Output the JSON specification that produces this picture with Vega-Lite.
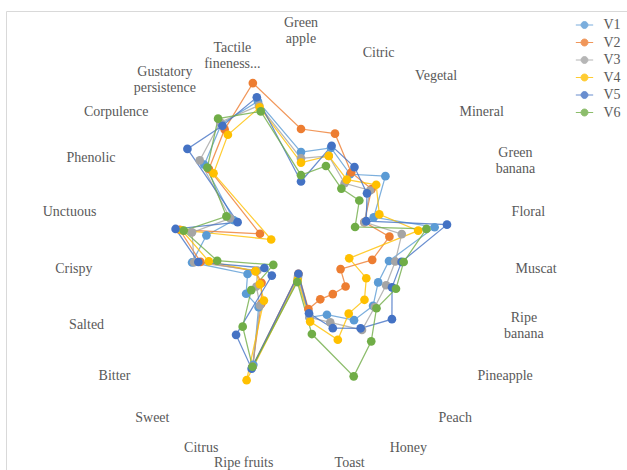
{
  "$schema": "https://vega.github.io/schema/vega-lite/v6.json",
  "width": 625,
  "height": 465,
  "autosize": {"type": "none"},
  "padding": {"left": 6, "top": 11, "right": 0, "bottom": 0},
  "background": "white",
  "config": {
    "view": {"stroke": "#d9d9d9", "strokeWidth": 1},
    "font": "Liberation Serif",
    "text": {"font": "Liberation Serif", "fontSize": 14, "color": "#595959", "lineBreak": "\n", "lineHeight": 16}
  },
  "datasets": {
    "scores": [
      {"s":"V1","k":0,"v":4.9},{"s":"V1","k":1,"v":5.3},{"s":"V1","k":2,"v":4.5},{"s":"V1","k":3,"v":5.5},{"s":"V1","k":4,"v":3.9},{"s":"V1","k":5,"v":6.5},{"s":"V1","k":6,"v":4.2},{"s":"V1","k":7,"v":3.9},{"s":"V1","k":8,"v":4.2},{"s":"V1","k":9,"v":4.0},{"s":"V1","k":10,"v":3.1},{"s":"V1","k":11,"v":3.0},{"s":"V1","k":12,"v":1.0},{"s":"V1","k":13,"v":5.7},{"s":"V1","k":14,"v":3.2},{"s":"V1","k":15,"v":3.2},{"s":"V1","k":16,"v":2.7},{"s":"V1","k":17,"v":5.2},{"s":"V1","k":18,"v":4.6},{"s":"V1","k":19,"v":3.6},{"s":"V1","k":20,"v":6.3},{"s":"V1","k":21,"v":7.3},{"s":"V1","k":22,"v":7.6},
      {"s":"V2","k":0,"v":6.0},{"s":"V2","k":1,"v":6.0},{"s":"V2","k":2,"v":4.6},{"s":"V2","k":3,"v":4.6},{"s":"V2","k":4,"v":3.4},{"s":"V2","k":5,"v":4.3},{"s":"V2","k":6,"v":3.4},{"s":"V2","k":7,"v":2.0},{"s":"V2","k":8,"v":2.6},{"s":"V2","k":9,"v":2.4},{"s":"V2","k":10,"v":2.3},{"s":"V2","k":11,"v":2.6},{"s":"V2","k":12,"v":0.9},{"s":"V2","k":13,"v":5.8},{"s":"V2","k":14,"v":3.0},{"s":"V2","k":15,"v":2.3},{"s":"V2","k":16,"v":2.3},{"s":"V2","k":17,"v":4.8},{"s":"V2","k":18,"v":5.9},{"s":"V2","k":19,"v":2.2},{"s":"V2","k":20,"v":6.0},{"s":"V2","k":21,"v":7.0},{"s":"V2","k":22,"v":8.5},
      {"s":"V3","k":0,"v":4.6},{"s":"V3","k":1,"v":4.9},{"s":"V3","k":2,"v":4.0},{"s":"V3","k":3,"v":4.5},{"s":"V3","k":4,"v":3.4},{"s":"V3","k":5,"v":4.9},{"s":"V3","k":6,"v":4.5},{"s":"V3","k":7,"v":4.3},{"s":"V3","k":8,"v":4.3},{"s":"V3","k":9,"v":4.6},{"s":"V3","k":10,"v":3.5},{"s":"V3","k":11,"v":3.0},{"s":"V3","k":12,"v":1.1},{"s":"V3","k":13,"v":5.8},{"s":"V3","k":14,"v":3.1},{"s":"V3","k":15,"v":2.6},{"s":"V3","k":16,"v":2.2},{"s":"V3","k":17,"v":5.1},{"s":"V3","k":18,"v":5.3},{"s":"V3","k":19,"v":3.8},{"s":"V3","k":20,"v":6.6},{"s":"V3","k":21,"v":7.4},{"s":"V3","k":22,"v":7.4},
      {"s":"V4","k":0,"v":4.4},{"s":"V4","k":1,"v":4.9},{"s":"V4","k":2,"v":4.2},{"s":"V4","k":3,"v":4.9},{"s":"V4","k":4,"v":4.2},{"s":"V4","k":5,"v":5.7},{"s":"V4","k":6,"v":2.3},{"s":"V4","k":7,"v":3.3},{"s":"V4","k":8,"v":3.7},{"s":"V4","k":9,"v":3.6},{"s":"V4","k":10,"v":4.4},{"s":"V4","k":11,"v":3.2},{"s":"V4","k":12,"v":1.2},{"s":"V4","k":13,"v":6.5},{"s":"V4","k":14,"v":2.8},{"s":"V4","k":15,"v":2.4},{"s":"V4","k":16,"v":2.3},{"s":"V4","k":17,"v":4.4},{"s":"V4","k":18,"v":5.8},{"s":"V4","k":19,"v":1.6},{"s":"V4","k":20,"v":5.7},{"s":"V4","k":21,"v":6.7},{"s":"V4","k":22,"v":7.3},
      {"s":"V5","k":0,"v":3.5},{"s":"V5","k":1,"v":5.4},{"s":"V5","k":2,"v":4.9},{"s":"V5","k":3,"v":4.3},{"s":"V5","k":4,"v":3.5},{"s":"V5","k":5,"v":7.1},{"s":"V5","k":6,"v":4.8},{"s":"V5","k":7,"v":4.6},{"s":"V5","k":8,"v":5.3},{"s":"V5","k":9,"v":4.5},{"s":"V5","k":10,"v":3.8},{"s":"V5","k":11,"v":2.8},{"s":"V5","k":12,"v":0.9},{"s":"V5","k":13,"v":5.9},{"s":"V5","k":14,"v":4.9},{"s":"V5","k":15,"v":1.7},{"s":"V5","k":16,"v":1.85},{"s":"V5","k":17,"v":4.9},{"s":"V5","k":18,"v":6.1},{"s":"V5","k":19,"v":3.4},{"s":"V5","k":20,"v":7.4},{"s":"V5","k":21,"v":7.2},{"s":"V5","k":22,"v":7.8},
      {"s":"V6","k":0,"v":3.8},{"s":"V6","k":1,"v":4.4},{"s":"V6","k":2,"v":3.7},{"s":"V6","k":3,"v":3.8},{"s":"V6","k":4,"v":2.9},{"s":"V6","k":5,"v":6.1},{"s":"V6","k":6,"v":4.9},{"s":"V6","k":7,"v":4.8},{"s":"V6","k":8,"v":4.4},{"s":"V6","k":9,"v":5.3},{"s":"V6","k":10,"v":6.3},{"s":"V6","k":11,"v":3.8},{"s":"V6","k":12,"v":1.3},{"s":"V6","k":13,"v":5.8},{"s":"V6","k":14,"v":4.4},{"s":"V6","k":15,"v":2.9},{"s":"V6","k":16,"v":1.4},{"s":"V6","k":17,"v":4.0},{"s":"V6","k":18,"v":5.7},{"s":"V6","k":19,"v":4.0},{"s":"V6","k":20,"v":6.1},{"s":"V6","k":21,"v":7.6},{"s":"V6","k":22,"v":7.1}
    ],
    "cats": [
      {"k":0,"name":"Green\napple"},{"k":1,"name":"Citric"},{"k":2,"name":"Vegetal"},{"k":3,"name":"Mineral"},{"k":4,"name":"Green\nbanana"},{"k":5,"name":"Floral"},{"k":6,"name":"Muscat"},{"k":7,"name":"Ripe\nbanana"},{"k":8,"name":"Pineapple"},{"k":9,"name":"Peach"},{"k":10,"name":"Honey"},{"k":11,"name":"Toast"},{"k":12,"name":"Ripe fruits"},{"k":13,"name":"Citrus"},{"k":14,"name":"Sweet"},{"k":15,"name":"Bitter"},{"k":16,"name":"Salted"},{"k":17,"name":"Crispy"},{"k":18,"name":"Unctuous"},{"k":19,"name":"Phenolic"},{"k":20,"name":"Corpulence"},{"k":21,"name":"Gustatory\npersistence"},{"k":22,"name":"Tactile\nfineness..."}
    ]
  },
  "layer": [
    {
      "data": {"name": "scores"},
      "transform": [
        {"calculate": "datum.v * sin(datum.k * 2 * PI / 23)", "as": "x"},
        {"calculate": "datum.v * cos(datum.k * 2 * PI / 23)", "as": "y"}
      ],
      "layer": [
        {
          "mark": {"type": "line", "interpolate": "linear-closed", "strokeWidth": 1.25, "opacity": 0.8},
          "encoding": {
            "x": {"field": "x", "type": "quantitative", "axis": null, "scale": {"domain": [-14.0476, 15.7143], "nice": false, "zero": false}},
            "y": {"field": "y", "type": "quantitative", "axis": null, "scale": {"domain": [-10.5238, 11.619], "nice": false, "zero": false}},
            "color": {
              "field": "s", "type": "nominal",
              "scale": {"domain": ["V1","V2","V3","V4","V5","V6"], "range": ["#5B9BD5","#ED7D31","#A5A5A5","#FFC000","#4472C4","#70AD47"]},
              "legend": {
                "title": null, "orient": "none", "legendX": 571.5, "legendY": 7, "padding": 0,
                "symbolType": "M-2,0H2M0.8,0A0.8,0.8,0,1,1,-0.8,0A0.8,0.8,0,1,1,0.8,0Z",
                "symbolSize": 225, "symbolStrokeWidth": 1, "rowPadding": 3.5, "labelOffset": 12,
                "labelFont": "Liberation Serif", "labelFontSize": 14, "labelColor": "#595959",
                "encode": {"symbols": {"update": {"stroke": {"scale": "color", "field": "value"}, "fill": {"scale": "color", "field": "value"}, "strokeWidth": {"value": 1}, "opacity": {"value": 1}}}}
              }
            },
            "order": {"field": "k", "type": "quantitative"}
          }
        },
        {
          "mark": {"type": "point", "filled": true, "opacity": 1, "shape": "circle"},
          "encoding": {
            "x": {"field": "x", "type": "quantitative"},
            "y": {"field": "y", "type": "quantitative"},
            "color": {"field": "s", "type": "nominal"},
            "size": {"field": "s", "type": "nominal", "scale": {"domain": ["V1","V2","V3","V4","V5","V6"], "range": [75,75,75,75,75,42]}, "legend": null}
          }
        }
      ]
    },
    {
      "data": {"name": "cats"},
      "transform": [
        {"calculate": "10.0 * sin(datum.k * 2 * PI / 23)", "as": "x"},
        {"calculate": "10.0 * cos(datum.k * 2 * PI / 23)", "as": "y"}
      ],
      "layer": [
        {
          "transform": [{"filter": "datum.k == 0"}],
          "mark": {"type": "text", "align": "center", "baseline": "bottom", "dy": -15},
          "encoding": {"x": {"field": "x", "type": "quantitative"}, "y": {"field": "y", "type": "quantitative"}, "text": {"field": "name"}}
        },
        {
          "transform": [{"filter": "indexof([1,2,3,5,6,8,9,10,11], datum.k) >= 0"}],
          "mark": {"type": "text", "align": "left", "baseline": "middle", "dx": 5},
          "encoding": {"x": {"field": "x", "type": "quantitative"}, "y": {"field": "y", "type": "quantitative"}, "text": {"field": "name"}}
        },
        {
          "transform": [{"filter": "datum.k == 4"}],
          "mark": {"type": "text", "align": "center", "baseline": "middle", "dx": 28, "dy": -5},
          "encoding": {"x": {"field": "x", "type": "quantitative"}, "y": {"field": "y", "type": "quantitative"}, "text": {"field": "name"}}
        },
        {
          "transform": [{"filter": "datum.k == 7"}],
          "mark": {"type": "text", "align": "center", "baseline": "middle", "dx": 25, "dy": -7},
          "encoding": {"x": {"field": "x", "type": "quantitative"}, "y": {"field": "y", "type": "quantitative"}, "text": {"field": "name"}}
        },
        {
          "transform": [{"filter": "datum.k >= 12 && datum.k <= 20"}],
          "mark": {"type": "text", "align": "right", "baseline": "middle", "dx": 1},
          "encoding": {"x": {"field": "x", "type": "quantitative"}, "y": {"field": "y", "type": "quantitative"}, "text": {"field": "name"}}
        },
        {
          "transform": [{"filter": "datum.k == 21"}],
          "mark": {"type": "text", "align": "center", "baseline": "middle", "dx": -27, "dy": -4},
          "encoding": {"x": {"field": "x", "type": "quantitative"}, "y": {"field": "y", "type": "quantitative"}, "text": {"field": "name"}}
        },
        {
          "transform": [{"filter": "datum.k == 22"}],
          "mark": {"type": "text", "align": "center", "baseline": "middle", "dx": -12, "dy": -5},
          "encoding": {"x": {"field": "x", "type": "quantitative"}, "y": {"field": "y", "type": "quantitative"}, "text": {"field": "name"}}
        }
      ]
    }
  ]
}
